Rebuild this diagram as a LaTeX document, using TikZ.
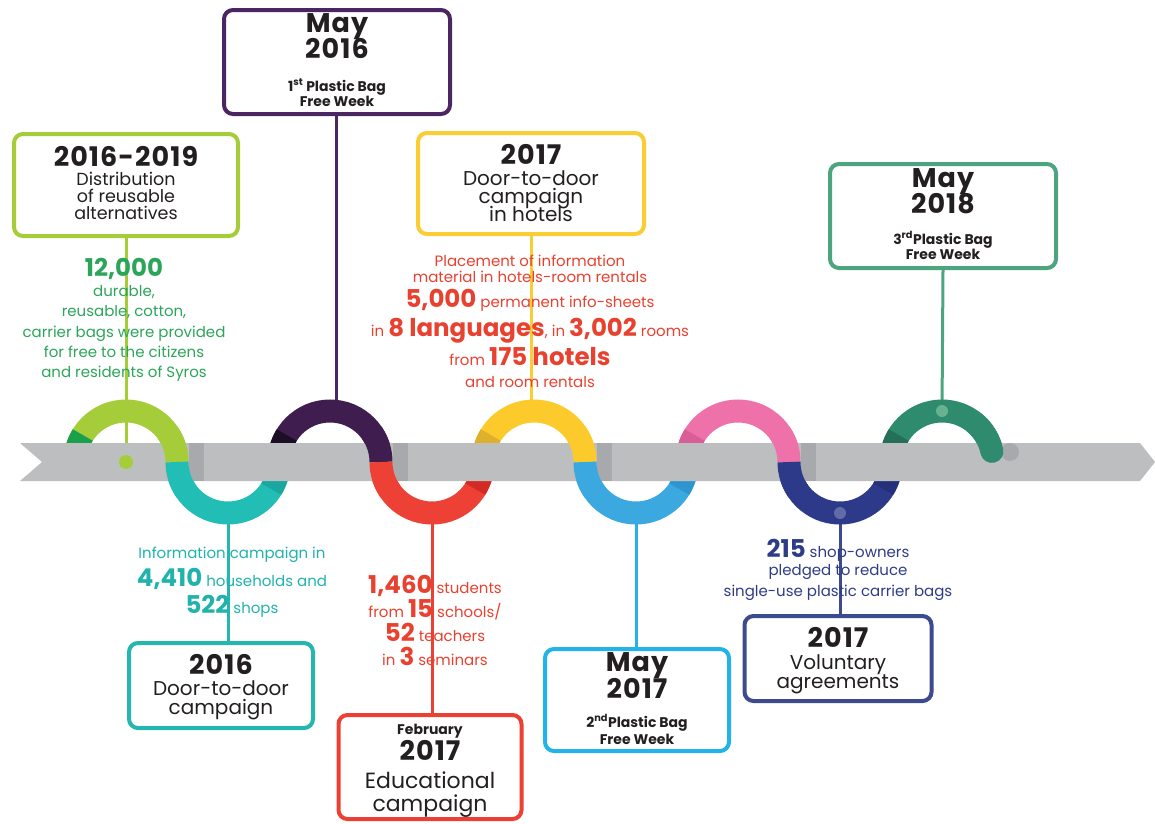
\documentclass[tikz,border=0pt]{standalone}
\usepackage{fontspec}
\setmainfont{Poppins}

\definecolor{arcLime}{HTML}{A5CD39}
\definecolor{limeDark}{HTML}{1AA04A}
\definecolor{arcTeal}{HTML}{22BDB4}
\definecolor{tealDark}{HTML}{19A7A0}
\definecolor{arcPlum}{HTML}{3F1E4F}
\definecolor{plumDark}{HTML}{1C0E24}
\definecolor{arcRed}{HTML}{EE4136}
\definecolor{redDark}{HTML}{D32B24}
\definecolor{arcGold}{HTML}{FCCB2B}
\definecolor{goldDark}{HTML}{DDB12E}
\definecolor{arcSky}{HTML}{3BA8E0}
\definecolor{skyDark}{HTML}{2E95CF}
\definecolor{arcPink}{HTML}{EE72A9}
\definecolor{pinkDark}{HTML}{D85E96}
\definecolor{arcNavy}{HTML}{2D3A89}
\definecolor{navyDark}{HTML}{25307A}
\definecolor{arcSea}{HTML}{2E8B6E}
\definecolor{bandGrey}{HTML}{BCBEC0}
\definecolor{bandShade}{HTML}{A7A9AC}
\definecolor{boxPlum}{HTML}{4A2663}
\definecolor{boxGold}{HTML}{F9CD33}
\definecolor{boxSea}{HTML}{4DA57F}
\definecolor{boxTeal}{HTML}{25B6B0}
\definecolor{boxRed}{HTML}{EA4134}
\definecolor{boxSky}{HTML}{22B3E8}
\definecolor{boxNavy}{HTML}{3C4A8E}
\definecolor{inkDark}{HTML}{231F20}
\definecolor{inkGreen}{HTML}{2BA55A}
\definecolor{inkTeal}{HTML}{20B3AC}
\definecolor{inkRed}{HTML}{E8412F}
\definecolor{inkNavy}{HTML}{2E3B87}

\newcommand{\hinum}[1]{{\bfseries\fontsize{24.5}{24.5}\selectfont #1}}

\begin{document}
\begin{tikzpicture}
    [x=1pt, y=-1pt,
     box/.style={draw, line width=4pt, rounded corners=9pt, fill=white, inner sep=0pt},
     ribbon/.style={line width=23pt},
     stem/.style={line width=3pt},
     yr/.style={anchor=base, text=inkDark, font=\bfseries\fontsize{27}{27}\selectfont\addfontfeature{LetterSpace=4}},
     sub/.style={anchor=base, text=inkDark, font=\fontsize{20}{20}\selectfont},
     week/.style={anchor=base, text=inkDark, font=\bfseries\fontsize{14}{14}\selectfont},
     note/.style={anchor=base, font=\fontsize{15}{15}\selectfont}]
    \useasboundingbox (0,0) rectangle (1155,823);

    % arc centres, tops and bottoms
    \coordinate (c0) at (126,462);
    \coordinate (c1) at (228,462);
    \coordinate (c2) at (330,462);
    \coordinate (c3) at (432,462);
    \coordinate (c4) at (534,462);
    \coordinate (c5) at (636,462);
    \coordinate (c6) at (738,462);
    \coordinate (c7) at (840,462);
    \coordinate (c8) at (942,462);
    \coordinate (t2) at (336,411);
    \coordinate (t4) at (531,411);
    \coordinate (t8) at (942,411);
    \coordinate (u1) at (228,513);
    \coordinate (u3) at (432,513);
    \coordinate (u5) at (636,513);
    \coordinate (u7) at (840,513);

    % boxes
    \node[box, draw=arcLime, minimum width=224pt, minimum height=102pt] (b1) at (126,185) {};
    \node[box, draw=boxPlum, minimum width=226pt, minimum height=104pt] (b2) at (337,62) {};
    \node[box, draw=boxGold, minimum width=226pt, minimum height=101pt] (b3) at (531,183.5) {};
    \node[box, draw=boxSea, minimum width=226pt, minimum height=104pt] (b4) at (943,216) {};
    \node[box, draw=boxTeal, minimum width=184pt, minimum height=85pt] (b5) at (221,685.5) {};
    \node[box, draw=boxRed, minimum width=183pt, minimum height=104pt] (b6) at (430,767) {};
    \node[box, draw=boxSky, minimum width=184pt, minimum height=102pt] (b7) at (637,700) {};
    \node[box, draw=boxNavy, minimum width=187pt, minimum height=85pt] (b8) at (838,658.5) {};

    % stems
    \draw[stem, arcLime] (b1.south) -- (c0);
    \draw[stem, boxPlum] (b2.south -| t2) -- (t2);
    \draw[stem, boxGold] (b3.south -| t4) -- (t4);
    \draw[stem, boxSea] (b4.south) -- (t8);
    \draw[stem, boxTeal] (u1) -- (u1 |- b5.north);
    \draw[stem, boxRed] (u3) -- (u3 |- b6.north);
    \draw[stem, boxSky] (u5) -- (u5 |- b7.north);
    \draw[stem, boxNavy] (u7) -- (u7 |- b8.north);

    % ribbon, back part
    \draw[ribbon, arcLime] (c0) ++(180:51) arc (180:360:51);
    \draw[ribbon, arcTeal] (c1) ++(180:51) arc (180:0:51);
    \draw[ribbon, arcPlum] (c2) ++(180:51) arc (180:360:51);
    \draw[ribbon, arcRed] (c3) ++(180:51) arc (180:0:51);
    \draw[ribbon, arcGold] (c4) ++(180:51) arc (180:360:51);
    \draw[ribbon, arcSky] (c5) ++(180:51) arc (180:0:51);
    \draw[ribbon, arcPink] (c6) ++(180:51) arc (180:360:51);
    \draw[ribbon, arcNavy] (c7) ++(180:51) arc (180:0:51);
    \draw[ribbon, arcSea] (c8) ++(180:51) arc (180:348:51);
    \draw[ribbon, limeDark] (c0) ++(180:51) arc (180:212:51);
    \draw[ribbon, plumDark] (c2) ++(180:51) arc (180:212:51);
    \draw[ribbon, goldDark] (c4) ++(180:51) arc (180:212:51);
    \draw[ribbon, pinkDark] (c6) ++(180:51) arc (180:212:51);
    \draw[ribbon, arcSea!80!black] (c8) ++(180:51) arc (180:212:51);
    \draw[ribbon, tealDark] (c1) ++(32:51) arc (32:0:51);
    \draw[ribbon, redDark] (c3) ++(32:51) arc (32:0:51);
    \draw[ribbon, skyDark] (c5) ++(32:51) arc (32:0:51);
    \draw[ribbon, navyDark] (c7) ++(32:51) arc (32:0:51);

    % band
    \fill[bandGrey] (20,443) -- (1140,443) -- (1155,462) -- (1140,481) -- (20,481) -- (42,462) -- cycle;
    \fill[bandShade] (189,443) rectangle (204,481);
    \fill[bandShade] (393,443) rectangle (408,481);
    \fill[bandShade] (597,443) rectangle (612,481);
    \fill[bandShade] (801,443) rectangle (816,481);
    \fill[bandShade] (1010,452) circle (9);

    % ribbon, front part
    \draw[ribbon, arcLime] (c0) ++(325:51) arc (325:360:51);
    \draw[ribbon, arcTeal] (c1) ++(180:51) arc (180:145:51);
    \draw[ribbon, arcPlum] (c2) ++(325:51) arc (325:360:51);
    \draw[ribbon, arcRed] (c3) ++(180:51) arc (180:145:51);
    \draw[ribbon, arcGold] (c4) ++(325:51) arc (325:360:51);
    \draw[ribbon, arcSky] (c5) ++(180:51) arc (180:145:51);
    \draw[ribbon, arcPink] (c6) ++(325:51) arc (325:360:51);
    \draw[ribbon, arcNavy] (c7) ++(180:51) arc (180:145:51);
    \draw[ribbon, arcSea, line cap=round] (c8) ++(310:51) arc (310:348:51);

    % dots
    \fill[arcLime] (c0) circle (7);
    \fill[arcNavy!75!white] (u7) circle (6);
    \fill[boxSea!85!white] (t8) circle (6);

    % box texts
    \node[yr] (y1) at (126,166) {2016-2019};
    \node[sub, font=\fontsize{17.5}{17.5}\selectfont] (s1a) at (126,185) {Distribution};
    \node[sub, font=\fontsize{17.5}{17.5}\selectfont] (s1b) at (126,202) {of reusable};
    \node[sub, font=\fontsize{17.5}{17.5}\selectfont] (s1c) at (126,219) {alternatives};

    \node[yr] (m2) at (337,32) {May};
    \node[yr] (y2) at (337,58) {2016};
    \node[week] (w2a) at (337,91) {1\textsuperscript{st} Plastic Bag};
    \node[week] (w2b) at (337,106) {Free Week};

    \node[yr] (y3) at (531,164) {2017};
    \node[sub] (s3a) at (531,185) {Door-to-door};
    \node[sub] (s3b) at (531,203) {campaign};
    \node[sub] (s3c) at (531,221) {in hotels};

    \node[yr] (m4) at (943,187) {May};
    \node[yr] (y4) at (943,213) {2018};
    \node[week] (w4a) at (943,244) {3\textsuperscript{rd}Plastic Bag};
    \node[week] (w4b) at (943,259) {Free Week};

    \node[yr] (y5) at (221,674) {2016};
    \node[sub] (s5a) at (221,695) {Door-to-door};
    \node[sub] (s5b) at (221,714) {campaign};

    \node[week] (f6) at (430,734) {February};
    \node[yr] (y6) at (430,760) {2017};
    \node[sub, font=\fontsize{22}{22}\selectfont] (s6a) at (430,788) {Educational};
    \node[sub, font=\fontsize{22}{22}\selectfont] (s6b) at (430,811) {campaign};

    \node[yr] (m7) at (637,671) {May};
    \node[yr] (y7) at (637,698) {2017};
    \node[week] (w7a) at (637,727) {2\textsuperscript{nd}Plastic Bag};
    \node[week] (w7b) at (637,744) {Free Week};

    \node[yr] (y8) at (838,647) {2017};
    \node[sub] (s8a) at (838,669) {Voluntary};
    \node[sub] (s8b) at (838,688) {agreements};

    % notes on the stems
    \node[note, text=inkGreen] (g1) at (124,276) {\hinum{12,000}};
    \node[note, text=inkGreen] (g2) at (124,296) {durable,};
    \node[note, text=inkGreen] (g3) at (124,316) {reusable, cotton,};
    \node[note, text=inkGreen] (g4) at (124,337) {carrier bags were provided};
    \node[note, text=inkGreen] (g5) at (124,357) {for free to the citizens};
    \node[note, text=inkGreen] (g6) at (124,377) {and residents of Syros};

    \node[note, text=inkRed] (h1) at (530,266) {Placement of information};
    \node[note, text=inkRed] (h2) at (530,282) {material in hotels-room rentals};
    \node[note, text=inkRed] (h3) at (530,307) {\hinum{5,000} permanent info-sheets};
    \node[note, text=inkRed] (h4) at (530,336) {in \hinum{8 languages}, in \hinum{3,002} rooms};
    \node[note, text=inkRed] (h5) at (530,365) {from \hinum{175 hotels}};
    \node[note, text=inkRed] (h6) at (530,387) {and room rentals};

    \node[note, text=inkTeal] (i1) at (232,558) {Information campaign in};
    \node[note, text=inkTeal] (i2) at (232,586) {\hinum{4,410} households and};
    \node[note, text=inkTeal] (i3) at (232,613) {\hinum{522} shops};

    \node[note, text=inkRed] (e1) at (435,593) {\hinum{1,460} students};
    \node[note, text=inkRed] (e2) at (435,617) {from \hinum{15} schools/};
    \node[note, text=inkRed] (e3) at (435,641) {\hinum{52} teachers};
    \node[note, text=inkRed] (e4) at (435,665) {in \hinum{3} seminars};

    \node[note, text=inkNavy] (v1) at (838,557) {\hinum{215} shop-owners};
    \node[note, text=inkNavy] (v2) at (838,575) {pledged to reduce};
    \node[note, text=inkNavy] (v3) at (838,596) {single-use plastic carrier bags};
\end{tikzpicture}
\end{document}
